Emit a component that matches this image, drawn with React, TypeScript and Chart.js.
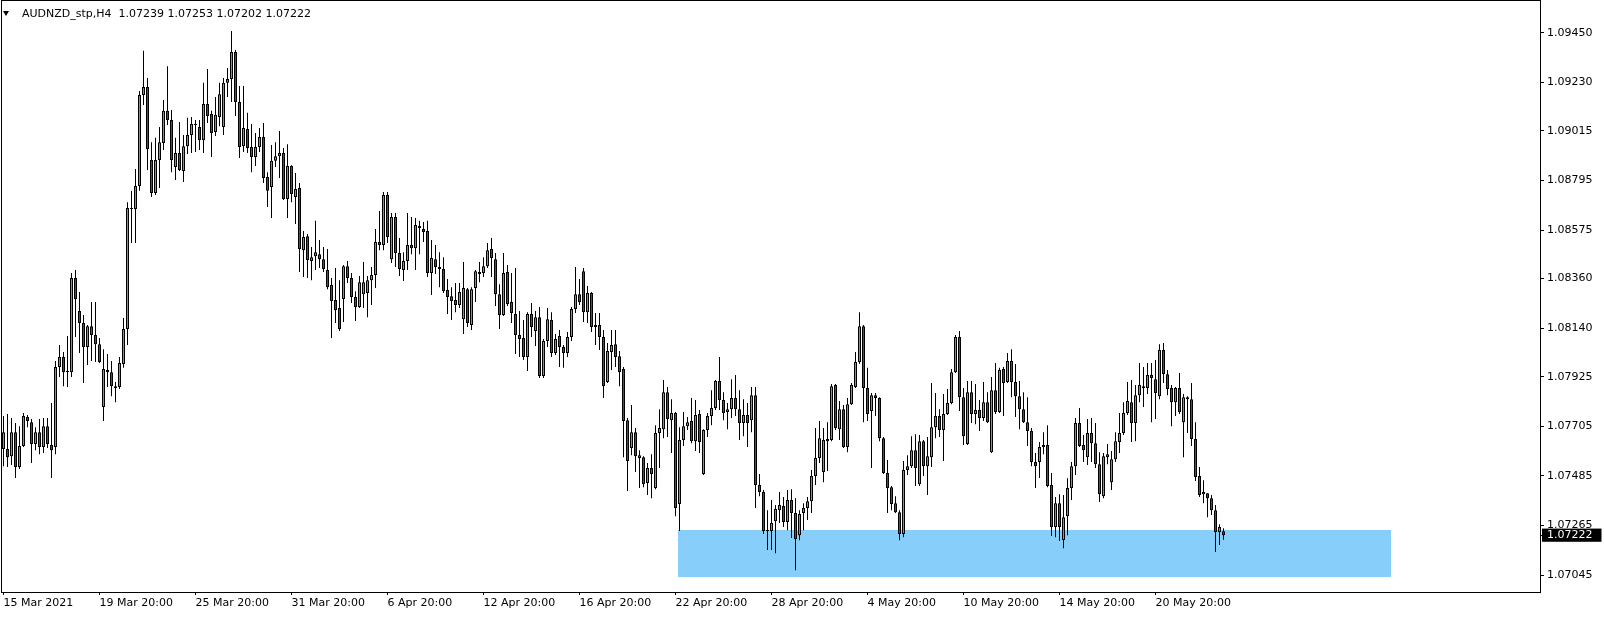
import React, { useEffect, useRef } from "react";
import { Chart, registerables } from "chart.js";

Chart.register(...registerables);

const symbolTitle = "AUDNZD_stp,H4";
const lastQuote = ["1.07239", "1.07253", "1.07202", "1.07222"];

const openPrices = [
  1.07604, 1.07604, 1.07572, 1.07679, 1.07524, 1.07617, 1.07746, 1.07723, 1.07626, 1.07679,
  1.07613, 1.07705, 1.07622, 1.07613, 1.07968, 1.08012, 1.07945, 1.07945, 1.08363, 1.08216,
  1.08163, 1.08056, 1.08149, 1.08110, 1.08069, 1.07790, 1.07954, 1.07945, 1.07883, 1.07879,
  1.07981, 1.08136, 1.08668, 1.08668, 1.08770, 1.09174, 1.09210, 1.08886, 1.08740, 1.08886,
  1.08961, 1.09104, 1.09063, 1.08855, 1.08917, 1.08837, 1.08947, 1.08997, 1.09045, 1.09032,
  1.08974, 1.09134, 1.09090, 1.09010, 1.09077, 1.09032, 1.09228, 1.09245, 1.09365, 1.09143,
  1.08947, 1.09023, 1.08943, 1.08899, 1.08943, 1.08988, 1.08810, 1.08766, 1.08882, 1.08903,
  1.08917, 1.08713, 1.08859, 1.08722, 1.08762, 1.08486, 1.08548, 1.08438, 1.08459, 1.08468,
  1.08446, 1.08398, 1.08331, 1.08265, 1.08229, 1.08269, 1.08415, 1.08363, 1.08278, 1.08234,
  1.08291, 1.08296, 1.08353, 1.08376, 1.08522, 1.08509, 1.08731, 1.08446, 1.08633, 1.08473,
  1.08398, 1.08438, 1.08509, 1.08495, 1.08593, 1.08580, 1.08571, 1.08385, 1.08446, 1.08411,
  1.08402, 1.08309, 1.08282, 1.08265, 1.08243, 1.08180, 1.08313, 1.08154, 1.08318, 1.08389,
  1.08385, 1.08415, 1.08491, 1.08446, 1.08291, 1.08198, 1.08389, 1.08256, 1.08203, 1.08110,
  1.08097, 1.08012, 1.08203, 1.08128, 1.08189, 1.07928, 1.08083, 1.08176, 1.08030, 1.08105,
  1.08056, 1.08030, 1.08101, 1.08225, 1.08291, 1.08393, 1.08211, 1.08296, 1.08145, 1.08154,
  1.08101, 1.07901, 1.08034, 1.08069, 1.08016, 1.07959, 1.07732, 1.07609, 1.07679, 1.07564,
  1.07568, 1.07453, 1.07520, 1.07431, 1.07675, 1.07692, 1.07856, 1.07732, 1.07764, 1.07360,
  1.07644, 1.07705, 1.07728, 1.07639, 1.07759, 1.07493, 1.07688, 1.07750, 1.07786, 1.07906,
  1.07821, 1.07768, 1.07781, 1.07830, 1.07781, 1.07719, 1.07755, 1.07732, 1.07843, 1.07444,
  1.07413, 1.07244, 1.07240, 1.07284, 1.07333, 1.07351, 1.07280, 1.07378, 1.07320, 1.07222,
  1.07320, 1.07342, 1.07373, 1.07484, 1.07564, 1.07502, 1.07639, 1.07644, 1.07888, 1.07692,
  1.07781, 1.07613, 1.07803, 1.07879, 1.07990, 1.08149, 1.07875, 1.07773, 1.07843, 1.07830,
  1.07652, 1.07498, 1.07435, 1.07364, 1.07324, 1.07227, 1.07511, 1.07528, 1.07599, 1.07448,
  1.07639, 1.07528, 1.07568, 1.07701, 1.07750, 1.07688, 1.07759, 1.07808, 1.07945, 1.08101,
  1.07834, 1.07626, 1.07856, 1.07759, 1.07777, 1.07742, 1.07812, 1.07590, 1.07865, 1.07768,
  1.07959, 1.07901, 1.07995, 1.07901, 1.07838, 1.07781, 1.07723, 1.07684, 1.07546, 1.07546,
  1.07622, 1.07622, 1.07444, 1.07258, 1.07364, 1.07200, 1.07306, 1.07431, 1.07528, 1.07719,
  1.07622, 1.07568, 1.07675, 1.07630, 1.07537, 1.07395, 1.07568, 1.07457, 1.07559, 1.07635,
  1.07675, 1.07764, 1.07812, 1.07719, 1.07843, 1.07883, 1.07875, 1.07932, 1.07914, 1.07838,
  1.08043, 1.07936, 1.07875, 1.07812, 1.07875, 1.07723, 1.07834, 1.07825, 1.07648, 1.07484,
  1.07404, 1.07408, 1.07386, 1.07333, 1.07235, 1.07239,
];

const highPrices = [
  1.07750, 1.07759, 1.07742, 1.07719, 1.07705, 1.07764, 1.07755, 1.07737, 1.07701, 1.07737,
  1.07742, 1.07742, 1.07808, 1.07995, 1.08065, 1.08034, 1.08105, 1.08385, 1.08398, 1.08300,
  1.08198, 1.08154, 1.08256, 1.08256, 1.08097, 1.08047, 1.08025, 1.07995, 1.07901, 1.08012,
  1.08185, 1.08699, 1.08749, 1.08846, 1.09192, 1.09370, 1.09250, 1.08965, 1.08984, 1.09032,
  1.09152, 1.09302, 1.09108, 1.08984, 1.09054, 1.08997, 1.09073, 1.09077, 1.09063, 1.09063,
  1.09228, 1.09289, 1.09104, 1.09165, 1.09228, 1.09250, 1.09294, 1.09458, 1.09374, 1.09214,
  1.09214, 1.09095, 1.09045, 1.09006, 1.09028, 1.09050, 1.08832, 1.08952, 1.08965, 1.09015,
  1.08939, 1.08956, 1.08863, 1.08828, 1.08784, 1.08571, 1.08558, 1.08500, 1.08616, 1.08531,
  1.08500, 1.08491, 1.08363, 1.08407, 1.08353, 1.08420, 1.08438, 1.08385, 1.08304, 1.08371,
  1.08433, 1.08371, 1.08411, 1.08580, 1.08660, 1.08744, 1.08744, 1.08651, 1.08651, 1.08540,
  1.08477, 1.08651, 1.08633, 1.08629, 1.08616, 1.08611, 1.08616, 1.08531, 1.08509, 1.08477,
  1.08455, 1.08358, 1.08322, 1.08340, 1.08340, 1.08433, 1.08318, 1.08322, 1.08398, 1.08433,
  1.08455, 1.08518, 1.08540, 1.08473, 1.08335, 1.08473, 1.08420, 1.08385, 1.08407, 1.08216,
  1.08176, 1.08211, 1.08252, 1.08216, 1.08234, 1.08092, 1.08229, 1.08211, 1.08114, 1.08132,
  1.08065, 1.08123, 1.08234, 1.08411, 1.08358, 1.08407, 1.08327, 1.08300, 1.08207, 1.08207,
  1.08132, 1.08074, 1.08132, 1.08132, 1.08039, 1.07968, 1.07742, 1.07799, 1.07697, 1.07599,
  1.07572, 1.07542, 1.07581, 1.07710, 1.07781, 1.07910, 1.07879, 1.07825, 1.07768, 1.07701,
  1.07768, 1.07746, 1.07830, 1.07821, 1.07777, 1.07692, 1.07764, 1.07865, 1.07910, 1.08012,
  1.07856, 1.07808, 1.07914, 1.07932, 1.07865, 1.07825, 1.07808, 1.07879, 1.07879, 1.07493,
  1.07422, 1.07333, 1.07378, 1.07356, 1.07413, 1.07391, 1.07422, 1.07426, 1.07386, 1.07333,
  1.07364, 1.07391, 1.07511, 1.07697, 1.07728, 1.07697, 1.07723, 1.07892, 1.07892, 1.07817,
  1.07799, 1.07830, 1.07897, 1.08034, 1.08211, 1.08154, 1.07964, 1.07852, 1.07852, 1.07834,
  1.07657, 1.07555, 1.07440, 1.07395, 1.07333, 1.07551, 1.07577, 1.07661, 1.07670, 1.07666,
  1.07644, 1.07657, 1.07897, 1.07852, 1.07781, 1.07848, 1.07870, 1.07959, 1.08110, 1.08128,
  1.07875, 1.07906, 1.07906, 1.07892, 1.07821, 1.07901, 1.07856, 1.07923, 1.07986, 1.07964,
  1.07968, 1.08030, 1.08047, 1.07981, 1.07906, 1.07856, 1.07834, 1.07697, 1.07586, 1.07635,
  1.07679, 1.07710, 1.07498, 1.07391, 1.07404, 1.07400, 1.07475, 1.07546, 1.07742, 1.07786,
  1.07666, 1.07737, 1.07742, 1.07719, 1.07590, 1.07586, 1.07626, 1.07595, 1.07679, 1.07764,
  1.07812, 1.07901, 1.07910, 1.07888, 1.07986, 1.07968, 1.07986, 1.07986, 1.07999, 1.08069,
  1.08074, 1.07954, 1.07888, 1.07879, 1.07941, 1.07848, 1.07838, 1.07897, 1.07723, 1.07524,
  1.07466, 1.07408, 1.07400, 1.07356, 1.07271, 1.07253,
];

const lowPrices = [
  1.07528, 1.07524, 1.07533, 1.07476, 1.07515, 1.07613, 1.07701, 1.07542, 1.07599, 1.07581,
  1.07586, 1.07609, 1.07476, 1.07581, 1.07923, 1.07883, 1.07879, 1.07923, 1.08101, 1.08030,
  1.07897, 1.07977, 1.07995, 1.07990, 1.07986, 1.07728, 1.07879, 1.07838, 1.07812, 1.07870,
  1.07964, 1.08065, 1.08518, 1.08518, 1.08749, 1.09130, 1.08841, 1.08722, 1.08731, 1.08762,
  1.08930, 1.09041, 1.08832, 1.08797, 1.08837, 1.08788, 1.08912, 1.08917, 1.08921, 1.08930,
  1.08917, 1.09050, 1.08899, 1.08992, 1.09036, 1.08997, 1.09165, 1.09143, 1.09081, 1.08895,
  1.08921, 1.08917, 1.08832, 1.08859, 1.08921, 1.08784, 1.08677, 1.08629, 1.08855, 1.08806,
  1.08708, 1.08629, 1.08699, 1.08602, 1.08389, 1.08367, 1.08363, 1.08353, 1.08398, 1.08407,
  1.08389, 1.08313, 1.08097, 1.08163, 1.08128, 1.08167, 1.08340, 1.08252, 1.08172, 1.08229,
  1.08229, 1.08189, 1.08243, 1.08318, 1.08486, 1.08486, 1.08518, 1.08429, 1.08411, 1.08371,
  1.08349, 1.08398, 1.08468, 1.08398, 1.08468, 1.08522, 1.08367, 1.08287, 1.08380, 1.08322,
  1.08296, 1.08203, 1.08176, 1.08211, 1.08229, 1.08114, 1.08145, 1.08132, 1.08256, 1.08344,
  1.08367, 1.08407, 1.08367, 1.08238, 1.08136, 1.08194, 1.08238, 1.08163, 1.08025, 1.08012,
  1.07999, 1.07950, 1.08101, 1.08061, 1.07919, 1.07919, 1.08056, 1.08012, 1.08021, 1.07968,
  1.07964, 1.08012, 1.08083, 1.08207, 1.08243, 1.08167, 1.08163, 1.08123, 1.08065, 1.08043,
  1.07830, 1.07897, 1.07954, 1.07968, 1.07883, 1.07568, 1.07418, 1.07577, 1.07502, 1.07431,
  1.07435, 1.07400, 1.07386, 1.07426, 1.07520, 1.07652, 1.07657, 1.07586, 1.07306, 1.07240,
  1.07617, 1.07688, 1.07630, 1.07595, 1.07586, 1.07489, 1.07657, 1.07710, 1.07777, 1.07777,
  1.07732, 1.07692, 1.07742, 1.07750, 1.07644, 1.07661, 1.07613, 1.07679, 1.07342, 1.07395,
  1.07227, 1.07156, 1.07156, 1.07142, 1.07276, 1.07258, 1.07244, 1.07209, 1.07067, 1.07200,
  1.07244, 1.07289, 1.07320, 1.07444, 1.07542, 1.07457, 1.07507, 1.07639, 1.07688, 1.07644,
  1.07609, 1.07590, 1.07799, 1.07875, 1.07981, 1.07723, 1.07728, 1.07520, 1.07750, 1.07639,
  1.07493, 1.07320, 1.07333, 1.07320, 1.07200, 1.07213, 1.07489, 1.07520, 1.07440, 1.07440,
  1.07484, 1.07400, 1.07524, 1.07652, 1.07657, 1.07551, 1.07755, 1.07803, 1.07941, 1.07773,
  1.07622, 1.07622, 1.07719, 1.07714, 1.07684, 1.07728, 1.07719, 1.07586, 1.07759, 1.07764,
  1.07750, 1.07897, 1.07834, 1.07746, 1.07692, 1.07719, 1.07617, 1.07528, 1.07431, 1.07476,
  1.07581, 1.07435, 1.07218, 1.07213, 1.07196, 1.07164, 1.07222, 1.07378, 1.07489, 1.07613,
  1.07546, 1.07533, 1.07546, 1.07520, 1.07369, 1.07386, 1.07537, 1.07422, 1.07546, 1.07586,
  1.07666, 1.07755, 1.07635, 1.07639, 1.07812, 1.07790, 1.07848, 1.07723, 1.07737, 1.07825,
  1.07897, 1.07843, 1.07705, 1.07750, 1.07759, 1.07568, 1.07675, 1.07617, 1.07462, 1.07391,
  1.07364, 1.07302, 1.07311, 1.07147, 1.07178, 1.07202,
];

const closePrices = [
  1.07679, 1.07568, 1.07679, 1.07524, 1.07617, 1.07750, 1.07728, 1.07626, 1.07679, 1.07613,
  1.07705, 1.07626, 1.07599, 1.07968, 1.08012, 1.07945, 1.07950, 1.08363, 1.08269, 1.08163,
  1.08056, 1.08149, 1.08110, 1.08069, 1.07990, 1.07959, 1.07945, 1.07883, 1.07875, 1.07986,
  1.08136, 1.08673, 1.08673, 1.08770, 1.09174, 1.09210, 1.08934, 1.08740, 1.08886, 1.08965,
  1.09104, 1.09063, 1.08886, 1.08917, 1.08841, 1.08947, 1.08997, 1.09045, 1.09041, 1.08974,
  1.09134, 1.09081, 1.09006, 1.09086, 1.09178, 1.09228, 1.09245, 1.09365, 1.09143, 1.08943,
  1.09028, 1.08939, 1.08899, 1.08943, 1.08988, 1.08806, 1.08749, 1.08882, 1.08903, 1.08917,
  1.08713, 1.08859, 1.08735, 1.08757, 1.08491, 1.08544, 1.08442, 1.08455, 1.08477, 1.08446,
  1.08402, 1.08322, 1.08261, 1.08220, 1.08136, 1.08415, 1.08363, 1.08278, 1.08234, 1.08344,
  1.08344, 1.08353, 1.08376, 1.08522, 1.08509, 1.08731, 1.08544, 1.08633, 1.08473, 1.08402,
  1.08438, 1.08509, 1.08495, 1.08598, 1.08584, 1.08567, 1.08385, 1.08451, 1.08411, 1.08402,
  1.08304, 1.08278, 1.08261, 1.08243, 1.08300, 1.08318, 1.08163, 1.08313, 1.08393, 1.08380,
  1.08415, 1.08486, 1.08451, 1.08291, 1.08198, 1.08385, 1.08247, 1.08207, 1.08110, 1.08092,
  1.08012, 1.08203, 1.08145, 1.08189, 1.07928, 1.08083, 1.08180, 1.08030, 1.08092, 1.08056,
  1.08030, 1.08101, 1.08225, 1.08291, 1.08256, 1.08211, 1.08296, 1.08145, 1.08154, 1.08101,
  1.07883, 1.08039, 1.08065, 1.08012, 1.07945, 1.07728, 1.07551, 1.07679, 1.07572, 1.07577,
  1.07448, 1.07520, 1.07493, 1.07675, 1.07697, 1.07856, 1.07737, 1.07764, 1.07342, 1.07644,
  1.07705, 1.07723, 1.07639, 1.07755, 1.07635, 1.07688, 1.07750, 1.07786, 1.07906, 1.07821,
  1.07764, 1.07781, 1.07830, 1.07781, 1.07719, 1.07755, 1.07719, 1.07843, 1.07444, 1.07413,
  1.07240, 1.07240, 1.07276, 1.07338, 1.07356, 1.07280, 1.07378, 1.07320, 1.07204, 1.07316,
  1.07342, 1.07373, 1.07484, 1.07564, 1.07652, 1.07644, 1.07648, 1.07883, 1.07697, 1.07781,
  1.07613, 1.07803, 1.07888, 1.07990, 1.08149, 1.07875, 1.07759, 1.07843, 1.07830, 1.07652,
  1.07498, 1.07431, 1.07360, 1.07324, 1.07227, 1.07511, 1.07528, 1.07599, 1.07520, 1.07639,
  1.07528, 1.07572, 1.07701, 1.07750, 1.07688, 1.07759, 1.07808, 1.07945, 1.08101, 1.07834,
  1.07661, 1.07856, 1.07759, 1.07777, 1.07742, 1.07812, 1.07723, 1.07865, 1.07768, 1.07954,
  1.07897, 1.07995, 1.07901, 1.07838, 1.07781, 1.07723, 1.07684, 1.07546, 1.07528, 1.07613,
  1.07613, 1.07440, 1.07258, 1.07364, 1.07258, 1.07302, 1.07431, 1.07528, 1.07719, 1.07617,
  1.07599, 1.07675, 1.07630, 1.07537, 1.07404, 1.07572, 1.07581, 1.07559, 1.07639, 1.07675,
  1.07764, 1.07817, 1.07719, 1.07843, 1.07888, 1.07875, 1.07932, 1.07919, 1.07852, 1.08043,
  1.07936, 1.07870, 1.07812, 1.07875, 1.07768, 1.07834, 1.07825, 1.07648, 1.07480, 1.07400,
  1.07413, 1.07386, 1.07333, 1.07235, 1.07258, 1.07222,
];

const dateLabels = [
  "15 Mar 2021", "19 Mar 20:00", "25 Mar 20:00", "31 Mar 20:00", "6 Apr 20:00",
  "12 Apr 20:00", "16 Apr 20:00", "22 Apr 20:00", "28 Apr 20:00", "4 May 20:00",
  "10 May 20:00", "14 May 20:00", "20 May 20:00",
];
const dateLabelBars = [0, 24, 48, 72, 96, 120, 144, 168, 192, 216, 240, 264, 288];

const priceTicks = [
  1.0945, 1.0923, 1.09015, 1.08795, 1.08575, 1.0836, 1.0814, 1.07925, 1.07705, 1.07485, 1.07265, 1.07045,
];
const currentPrice = 1.07222;

const zoneBars = [168.6, 346.9];
const zonePrices = [1.07037, 1.07244];

const yRange = [1.0697, 1.09591];
const xRange = [-0.375, 384.125];

const FONT = "'DejaVu Sans', sans-serif";
const BULL = "#32CD32";
const BEAR = "#DC1414";
const ZONE = "#87CEFA";

const chartPlugin = {
  id: "mtFrame",
  beforeDatasetsDraw(chart: any) {
    const { ctx, scales } = chart;
    const x = scales.x;
    const y = scales.y;
    const x0 = Math.round(x.getPixelForValue(zoneBars[0]));
    const x1 = Math.round(x.getPixelForValue(zoneBars[1]));
    const yTop = Math.round(y.getPixelForValue(zonePrices[1]));
    const yBot = Math.round(y.getPixelForValue(zonePrices[0]));
    ctx.save();
    ctx.fillStyle = ZONE;
    ctx.fillRect(x0, yTop, x1 - x0, yBot - yTop);
    ctx.restore();
  },
  afterDraw(chart: any) {
    const { ctx, chartArea } = chart;
    const l = Math.round(chartArea.left);
    const t = Math.round(chartArea.top);
    const r = Math.round(chartArea.right);
    const b = Math.round(chartArea.bottom);
    ctx.save();
    ctx.strokeStyle = "#000";
    ctx.lineWidth = 1;
    ctx.strokeRect(l - 0.5, t - 0.5, r - l + 1, b - t + 1);
    ctx.restore();
  },
};

export default function App() {
  const canvasRef = useRef<HTMLCanvasElement | null>(null);

  useEffect(() => {
    document.body.style.margin = "0";
    const canvas = canvasRef.current;
    if (!canvas) return;

    Chart.defaults.font.family = FONT;
    Chart.defaults.font.size = 11;
    Chart.defaults.color = "#000";

    const bodies = openPrices.map((o, i) => ({ x: i, y: [o, closePrices[i]] }));
    const wicks = openPrices.map((_o, i) => ({ x: i, y: [lowPrices[i], highPrices[i]] }));
    const bodyColors = openPrices.map((o, i) => (closePrices[i] >= o ? BULL : BEAR));

    const chart = new Chart(canvas, {
      type: "bar",
      data: {
        datasets: [
          {
            label: "body",
            data: bodies as any,
            backgroundColor: bodyColors,
            borderColor: "#000",
            borderWidth: 1,
            borderSkipped: false,
            maxBarThickness: 3,
            barPercentage: 1,
            categoryPercentage: 1,
            minBarLength: 1,
            grouped: false,
            inflateAmount: 0,
            order: 0,
          } as any,
          {
            label: "wick",
            data: wicks as any,
            backgroundColor: "#000",
            borderWidth: 0,
            maxBarThickness: 1,
            barPercentage: 1,
            categoryPercentage: 1,
            minBarLength: 1,
            grouped: false,
            inflateAmount: 0,
            order: 1,
          } as any,
        ],
      },
      options: {
        responsive: false,
        maintainAspectRatio: false,
        devicePixelRatio: 1,
        animation: false,
        events: [],
        layout: { padding: { left: 2, top: 1, right: 0, bottom: 0 } },
        plugins: { legend: { display: false }, tooltip: { enabled: false }, title: { display: false } },
        scales: {
          x: {
            type: "linear",
            min: xRange[0],
            max: xRange[1],
            offset: false,
            border: { display: false },
            grid: { display: true, drawOnChartArea: false, drawTicks: true, tickLength: 3, color: "#000", offset: false },
            ticks: {
              autoSkip: false,
              maxRotation: 0,
              minRotation: 0,
              align: "start",
              padding: 2,
              color: "#000",
              font: { family: FONT, size: 11 },
              callback: (v: any) => {
                const idx = dateLabelBars.indexOf(Number(v));
                return idx >= 0 ? dateLabels[idx] : "";
              },
            },
            afterBuildTicks: (s: any) => {
              s.ticks = dateLabelBars.map((v) => ({ value: v }));
            },
            afterFit: (s: any) => {
              s.height = 25;
              s.paddingLeft = 0;
              s.paddingRight = 0;
              s.paddingTop = 0;
              s.paddingBottom = 0;
            },
          } as any,
          y: {
            type: "linear",
            position: "right",
            min: yRange[0],
            max: yRange[1],
            beginAtZero: false,
            border: { display: false },
            grid: { display: true, drawOnChartArea: false, drawTicks: true, tickLength: 4, color: "#000" },
            ticks: {
              autoSkip: false,
              padding: 3,
              font: { family: FONT, size: 11 },
              color: (c: any) => (c.tick && c.tick.value === currentPrice ? "#fff" : "#000"),
              showLabelBackdrop: true,
              backdropColor: (c: any) => (c.tick && c.tick.value === currentPrice ? "#000" : "rgba(0,0,0,0)"),
              backdropPadding: { left: 5, right: 9, top: 0, bottom: 0 },
              callback: (v: any) => Number(v).toFixed(5),
            },
            afterBuildTicks: (s: any) => {
              s.ticks = [...priceTicks, currentPrice].map((v) => ({ value: v }));
            },
            afterFit: (s: any) => {
              s.width = 64;
              s.paddingTop = 0;
              s.paddingBottom = 0;
              s.paddingLeft = 0;
              s.paddingRight = 0;
            },
          } as any,
        },
      },
      plugins: [chartPlugin],
    });

    return () => {
      chart.destroy();
    };
  }, []);

  return (
    <div style={{ position: "relative", width: 1604, height: 617, background: "#fff", overflow: "hidden" }}>
      <canvas ref={canvasRef} width={1604} height={617} style={{ display: "block", width: 1604, height: 617 }} />
      <div
        style={{
          position: "absolute",
          left: 3,
          top: 11,
          width: 0,
          height: 0,
          borderLeft: "3.5px solid transparent",
          borderRight: "3.5px solid transparent",
          borderTop: "5px solid #000",
        }}
      />
      <div
        style={{
          position: "absolute",
          left: 22,
          top: 7,
          font: `11px ${FONT}`,
          lineHeight: "14px",
          color: "#000",
          whiteSpace: "pre",
        }}
      >
        {`${symbolTitle}  ${lastQuote.join(" ")}`}
      </div>
    </div>
  );
}
